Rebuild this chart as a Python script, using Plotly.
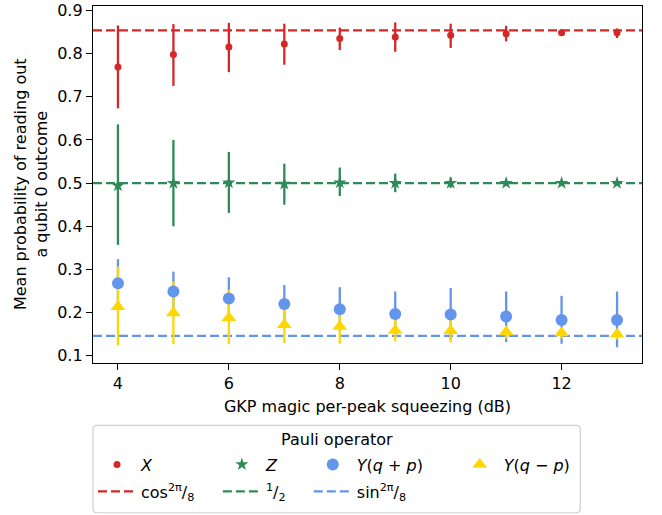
import numpy as np
import plotly.graph_objects as go

# ---------------- data ----------------
squeezing_db = [4, 5, 6, 7, 8, 9, 10, 11, 12, 13]

x_mean  = [0.769, 0.798, 0.815, 0.822, 0.835, 0.838, 0.842, 0.846, 0.848, 0.848]
x_upper = [0.865, 0.868, 0.871, 0.869, 0.860, 0.872, 0.869, 0.864, 0.856, 0.858]
x_lower = [0.673, 0.725, 0.757, 0.774, 0.808, 0.804, 0.813, 0.828, 0.841, 0.836]

z_mean  = [0.494, 0.500, 0.501, 0.498, 0.501, 0.500, 0.500, 0.500, 0.500, 0.500]
z_upper = [0.636, 0.600, 0.572, 0.545, 0.536, 0.522, 0.513, 0.505, 0.503, 0.503]
z_lower = [0.357, 0.400, 0.431, 0.450, 0.470, 0.479, 0.489, 0.495, 0.497, 0.497]

yqp_mean  = [0.268, 0.249, 0.233, 0.220, 0.208, 0.197, 0.196, 0.191, 0.183, 0.183]
yqp_upper = [0.324, 0.295, 0.282, 0.264, 0.259, 0.249, 0.257, 0.249, 0.239, 0.249]
yqp_lower = [0.212, 0.202, 0.184, 0.176, 0.157, 0.145, 0.136, 0.132, 0.128, 0.120]

yqm_mean  = [0.214, 0.199, 0.188, 0.172, 0.168, 0.159, 0.158, 0.155, 0.153, 0.150]
yqm_upper = [0.307, 0.272, 0.253, 0.214, 0.208, 0.185, 0.185, 0.170, 0.166, 0.162]
yqm_lower = [0.125, 0.127, 0.127, 0.129, 0.128, 0.134, 0.131, 0.140, 0.140, 0.138]

ref_cos2 = np.cos(np.pi / 8) ** 2
ref_half = 0.5
ref_sin2 = np.sin(np.pi / 8) ** 2

# ---------------- styling ----------------
FONT = "DejaVu Sans"
FS = 16
RED, GREEN, BLUE, GOLD = "#d62728", "#2e8b57", "#6495ed", "#ffd700"
XR = [3.55, 13.45]
YR = [0.0835, 0.9100]

# plot-area geometry in pixels
W, H = 662, 515
L, R, T, B = 93, 642.5, 5.7, 363.3
PW, PH = R - L, B - T
def px(x):
    return (x - L) / PW
def py(y):
    return (B - y) / PH

fig = go.Figure()

# reference lines
lines = [
    (ref_cos2, RED, "cos<sup>2</sup><sup>π</sup>/<sub>8</sub>", "legend5"),
    (ref_half, GREEN, "<sup>1</sup>/<sub>2</sub>", "legend6"),
    (ref_sin2, BLUE, "sin<sup>2</sup><sup>π</sup>/<sub>8</sub>", "legend7"),
]
for val, col, name, lg in lines:
    fig.add_trace(go.Scatter(
        x=XR, y=[val, val], mode="lines", name=name, legend=lg,
        line=dict(color=col, width=2.2, dash="9px,4px"),
        hoverinfo="skip"))

series = [
    ("<i>X</i>", x_mean, x_upper, x_lower, RED, "circle", 7, "legend"),
    ("<i>Z</i>", z_mean, z_upper, z_lower, GREEN, "star", 10, "legend2"),
    ("<i>Y</i>(<i>q</i> + <i>p</i>)", yqp_mean, yqp_upper, yqp_lower, BLUE, "circle", 12, "legend3"),
    ("<i>Y</i>(<i>q</i> − <i>p</i>)", yqm_mean, yqm_upper, yqm_lower, GOLD, "triangle-up", 13, "legend4"),
]

# error bars (drawn beneath all markers)
for name, m, up, lo, col, sym, size, lg in series:
    m_, up_, lo_ = np.array(m), np.array(up), np.array(lo)
    fig.add_trace(go.Scatter(
        x=squeezing_db, y=m, mode="markers", showlegend=False,
        marker=dict(size=1, opacity=0, color=col),
        error_y=dict(type="data", symmetric=False, array=up_ - m_,
                     arrayminus=m_ - lo_, color=col, thickness=2.3, width=0),
        hoverinfo="skip"))

# markers
for name, m, up, lo, col, sym, size, lg in series:
    fig.add_trace(go.Scatter(
        x=squeezing_db, y=m, mode="markers", name=name, legend=lg,
        marker=dict(symbol=sym, size=size, color=col, line=dict(width=0))))

axis_common = dict(
    showline=True, linecolor="black", linewidth=1.3, mirror=True,
    ticks="outside", ticklen=6, tickwidth=1.3, tickcolor="black",
    showgrid=False, zeroline=False,
    tickfont=dict(family=FONT, size=FS, color="black"),
)
fig.update_xaxes(range=XR, tickvals=[4, 6, 8, 10, 12],
                 title=dict(text="GKP magic per-peak squeezing (dB)",
                            font=dict(family=FONT, size=FS, color="black"), standoff=8),
                 **axis_common)
fig.update_yaxes(range=YR, tickvals=[0.1, 0.2, 0.3, 0.4, 0.5, 0.6, 0.7, 0.8, 0.9],
                 ticktext=["0.1", "0.2", "0.3", "0.4", "0.5", "0.6", "0.7", "0.8", "0.9"],
                 **axis_common)

# legend layout: one small legend per entry, arranged like a 4-column grid
leg_base = dict(bgcolor="rgba(0,0,0,0)", borderwidth=0, xanchor="left", yanchor="middle",
                font=dict(family=FONT, size=FS, color="black"), itemwidth=38,
                orientation="v")
col_x = [93, 218, 309, 456]
row_y = [465, 492]
legend_pos = {
    "legend": (col_x[0], row_y[0]), "legend2": (col_x[1], row_y[0]),
    "legend3": (col_x[2], row_y[0]), "legend4": (col_x[3], row_y[0]),
    "legend5": (col_x[0], row_y[1]), "legend6": (col_x[1], row_y[1]),
    "legend7": (col_x[2], row_y[1]),
}
layout_legends = {k: dict(leg_base, x=px(v[0]), y=py(v[1])) for k, v in legend_pos.items()}

# rounded legend frame
x0, x1, y0, y1, r = 93, 580.7, 425.7, 513.3, 4
path = (f"M {x0+r},{y0} L {x1-r},{y0} Q {x1},{y0} {x1},{y0+r} L {x1},{y1-r} "
        f"Q {x1},{y1} {x1-r},{y1} L {x0+r},{y1} Q {x0},{y1} {x0},{y1-r} "
        f"L {x0},{y0+r} Q {x0},{y0} {x0+r},{y0} Z")
def conv_path(p):
    out = []
    for t in p.split():
        if "," in t:
            a, b = t.split(",")
            out.append(f"{px(float(a)):.5f},{py(float(b)):.5f}")
        else:
            out.append(t)
    return " ".join(out)

fig.update_layout(
    width=W, height=H,
    margin=dict(l=L, r=W - R, t=T, b=H - B, pad=0, autoexpand=False),
    paper_bgcolor="white", plot_bgcolor="white",
    font=dict(family=FONT, size=FS, color="black"),
    shapes=[dict(type="path", path=conv_path(path), xref="paper", yref="paper",
                 line=dict(color="#d0d0d0", width=1.2), fillcolor="rgba(255,255,255,0.8)",
                 layer="below")],
    annotations=[
        dict(text="Pauli operator", x=px(337), y=py(440), xref="paper", yref="paper",
             showarrow=False, xanchor="center", yanchor="middle",
             font=dict(family=FONT, size=FS, color="black")),
        dict(text="Mean probability of reading out<br>a qubit 0 outcome",
             x=px(31), y=py(184), xref="paper", yref="paper", textangle=-90,
             showarrow=False, xanchor="center", yanchor="middle",
             font=dict(family=FONT, size=FS, color="black")),
    ],
    **layout_legends,
)

fig.write_html("out.html", config={"displayModeBar": False},
               post_script="document.body.style.margin='0px';document.body.style.padding='0px';")
